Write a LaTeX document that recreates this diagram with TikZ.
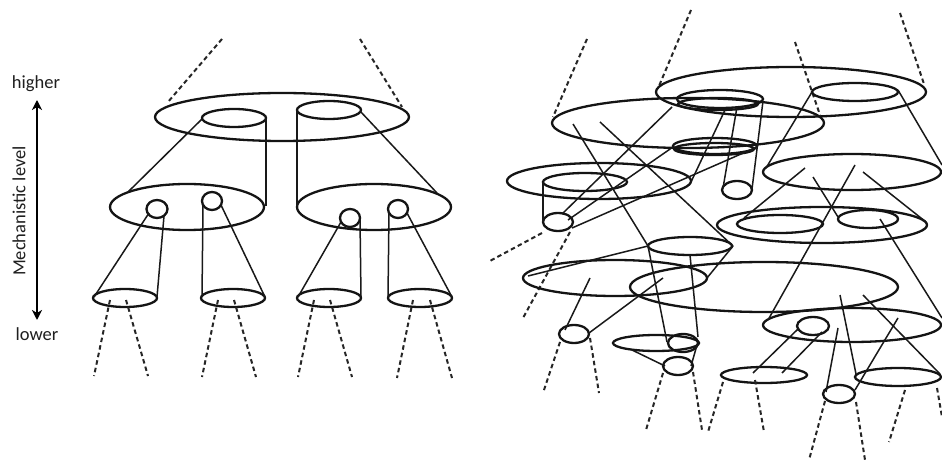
\documentclass[tikz,border=0pt]{standalone}
\usepackage{fontspec}
\setmainfont{Carlito}
\usetikzlibrary{arrows.meta}
\begin{document}
\begin{tikzpicture}[x=1pt,y=-1pt,
  ell/.style={line width=2.3pt, draw=black!92},
  ln/.style={line width=1.5pt, draw=black!90},
  dsh/.style={line width=2pt, draw=black!85, dash pattern=on 4.5pt off 3.2pt},
  lbl/.style={font=\fontsize{18.5}{20}\selectfont, text=black!88, inner sep=0pt}]
\useasboundingbox (0,0) rectangle (942,462);
\fill[white] (0,0) rectangle (942,462);

% ---------------- axis -----------------
\node[lbl] (hi) at (36,84) {higher};
\node[lbl] (lo) at (37,334) {lower};
\node[lbl, rotate=90] (mech) at (19,211) {Mechanistic level};
\coordinate (atop) at (37,100);
\coordinate (abot) at (37,320);
\draw[line width=2pt, {Stealth[length=10pt,width=10pt,inset=3pt]}-{Stealth[length=10pt,width=10pt,inset=3pt]}] (atop) -- (abot);

% ---------------- left hierarchy -----------------
\draw[dsh] (222,39) -- (168,102);
\draw[dsh] (360,39) -- (402,107);
\draw[ell] (282,117) ellipse [x radius=127pt, y radius=24pt];
\draw[ell] (234,118) ellipse [x radius=32pt, y radius=9pt];
\draw[ell] (329,110) ellipse [x radius=32pt, y radius=9pt];

\draw[ell] (187,207) ellipse [x radius=77pt, y radius=23pt];
\draw[ell] (374,207) ellipse [x radius=77pt, y radius=23pt];

\draw[ln] (202,119) -- (128,192);
\draw[ln] (266,118) -- (266,206);
\draw[ln] (297,110) -- (297,206);
\draw[ln] (360,111) -- (437,193);

\draw[ell] (157,209) ellipse [x radius=10.5pt, y radius=9pt];
\draw[ell] (212,201) ellipse [x radius=10pt, y radius=9pt];
\draw[ell] (350,218) ellipse [x radius=10pt, y radius=9pt];
\draw[ell] (398,209) ellipse [x radius=10pt, y radius=9pt];

\draw[ell] (125,298) ellipse [x radius=32pt, y radius=9pt];
\draw[ell] (233,298) ellipse [x radius=32pt, y radius=9pt];
\draw[ell] (329,298) ellipse [x radius=32pt, y radius=9pt];
\draw[ell] (420,298) ellipse [x radius=32pt, y radius=9pt];

\draw[ln] (149,213) -- (94,297);
\draw[ln] (164,216) -- (157,297);
\draw[ln] (203,204) -- (202,297);
\draw[ln] (221,205) -- (265,297);
\draw[ln] (341,222) -- (298,297);
\draw[ln] (360,219) -- (361,297);
\draw[ln] (389,212) -- (388,297);
\draw[ln] (407,213) -- (452,297);

\draw[dsh] (110,300) -- (94,376);
\draw[dsh] (126,300) -- (148,376);
\draw[dsh] (218,300) -- (202,377);
\draw[dsh] (234,300) -- (256,377);
\draw[dsh] (314,300) -- (298,377);
\draw[dsh] (330,300) -- (352,377);
\draw[dsh] (413,300) -- (397,378);
\draw[dsh] (430,300) -- (452,378);

% ---------------- right tangle -----------------
\draw[dsh] (587,39) -- (553,117);
\draw[dsh] (691,10) -- (659,86);
\draw[dsh] (795,42) -- (820,115);
\draw[dsh] (900,13) -- (924,84);
\draw[dsh] (542,233) -- (488,262);
\draw[dsh] (570,232) -- (523,318);

\draw[ell] (791,92) ellipse [x radius=135pt, y radius=25pt];
\draw[ell] (688,123) ellipse [x radius=136pt, y radius=25pt];
\draw[ell] (855,92) ellipse [x radius=43pt, y radius=9pt];
\draw[ell] (720,99) ellipse [x radius=43pt, y radius=9pt];
\draw[ell] (718,104) ellipse [x radius=40pt, y radius=6pt];
\draw[ell] (715,146) ellipse [x radius=42pt, y radius=8pt];
\draw[ell] (714,149) ellipse [x radius=40pt, y radius=6pt];
\draw[ell] (599,181) ellipse [x radius=92pt, y radius=18pt];
\draw[ell] (585,182) ellipse [x radius=42pt, y radius=9pt];
\draw[ell] (558,222) ellipse [x radius=15pt, y radius=9pt];
\draw[ell] (737,190) ellipse [x radius=15pt, y radius=9pt];
\draw[ell] (852,172) ellipse [x radius=89pt, y radius=18pt];
\draw[ell] (822,225) ellipse [x radius=105pt, y radius=18pt];
\draw[ell] (780,224) ellipse [x radius=43pt, y radius=9pt];
\draw[ell] (868,219) ellipse [x radius=30pt, y radius=9pt];
\draw[ell] (690,246) ellipse [x radius=42pt, y radius=9pt];
\draw[ell] (615,278) ellipse [x radius=92pt, y radius=18pt];
\draw[ell] (764,287) ellipse [x radius=134pt, y radius=25pt];
\draw[ell] (852,325) ellipse [x radius=89pt, y radius=17pt];
\draw[ell] (813,326) ellipse [x radius=16pt, y radius=9pt];
\draw[ell] (574,334) ellipse [x radius=15pt, y radius=9pt];
\draw[ell] (656,343) ellipse [x radius=43pt, y radius=8pt];
\draw[ell] (683,343) ellipse [x radius=15pt, y radius=9pt];
\draw[ell] (678,366) ellipse [x radius=15pt, y radius=9pt];
\draw[ell] (764,375) ellipse [x radius=43pt, y radius=8pt];
\draw[ell] (839,394) ellipse [x radius=16pt, y radius=9pt];
\draw[ell] (898,377) ellipse [x radius=43pt, y radius=9pt];

\draw[ln] (573,124) -- (648,246);
\draw[ln] (600,122) -- (733,246);
\draw[ln] (672,107) -- (562,214);
\draw[ln] (673,147) -- (568,220);
\draw[ln] (757,147) -- (572,228);
\draw[ln] (725,110) -- (691,182);
\draw[ln] (737,107) -- (723,188);
\draw[ln] (763,101) -- (752,189);
\draw[ln] (543,182) -- (543,222);
\draw[ln] (812,92) -- (766,168);
\draw[ln] (898,90) -- (942,165);
\draw[ln] (805,168) -- (744,218);
\draw[ln] (813,177) -- (838,217);
\draw[ln] (855,165) -- (768,320);
\draw[ln] (863,172) -- (926,222);
\draw[ln] (880,219) -- (942,318);
\draw[ln] (648,246) -- (528,276);
\draw[ln] (733,246) -- (707,278);
\draw[ln] (648,246) -- (667,342);
\draw[ln] (690,255) -- (698,337);
\draw[ln] (590,278) -- (565,330);
\draw[ln] (663,278) -- (589,333);
\draw[ln] (632,350) -- (665,366);
\draw[ln] (697,345) -- (691,366);
\draw[ln] (799,328) -- (753,373);
\draw[ln] (822,332) -- (782,373);
\draw[ln] (840,295) -- (856,374);
\draw[ln] (863,295) -- (940,374);
\draw[ln] (838,328) -- (826,392);
\draw[ln] (898,318) -- (855,390);

\draw[dsh] (560,342) -- (543,393);
\draw[dsh] (590,338) -- (599,393);
\draw[dsh] (663,373) -- (646,430);
\draw[dsh] (693,372) -- (702,430);
\draw[dsh] (723,382) -- (708,432);
\draw[dsh] (755,380) -- (764,432);
\draw[dsh] (825,401) -- (809,460);
\draw[dsh] (856,402) -- (865,460);
\draw[dsh] (905,390) -- (889,442);
\draw[dsh] (937,388) -- (942,417);
\end{tikzpicture}
\end{document}
